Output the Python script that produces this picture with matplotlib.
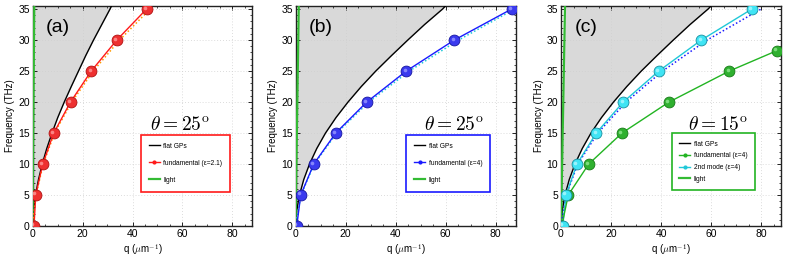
import matplotlib
matplotlib.use("Agg")
import matplotlib.pyplot as plt
from matplotlib.lines import Line2D
from matplotlib.ticker import MultipleLocator
from matplotlib.transforms import offset_copy

plt.rcParams['font.family'] = ['Liberation Sans', 'DejaVu Sans']
plt.rcParams['mathtext.fontset'] = 'cm'

# ---------------- data ----------------
flat_f = [0, 2.5, 5, 7.5, 10, 12.5, 15, 17.5, 20, 22.5, 25, 27.5, 30, 32.5, 35, 35.5]
flat_q_a = [0, 0.4, 1.2, 2.4, 3.9, 5.7, 7.8, 10.1, 12.7, 15.5, 18.4, 21.3, 24.4, 27.7, 31.0, 31.6]
flat_q_bc = [0, 0.5, 1.6, 3.3, 5.6, 8.5, 12.0, 16.2, 21.0, 26.3, 32.1, 38.4, 44.9, 51.6, 58.8, 60.0]

light_f = [0, 35.5]
light_q_a = [0, 0.7]
light_q_b = [0, 1.3]
light_q_c = [0, 1.6]

mode_f = [0, 5, 10, 15, 20, 25, 30, 35]
fund_q_a = [0.6, 1.3, 4.1, 8.5, 15.2, 23.5, 33.7, 45.6]
analytic_q_a = [0, 1.4, 4.3, 8.8, 15.7, 24.3, 34.8, 47.0]

fund_q_b = [0.5, 2.1, 7.3, 16.1, 28.5, 44.3, 63.5, 86.4]
analytic_q_b = [0, 2.2, 7.5, 16.5, 29.3, 45.5, 65.2, 87.6]

second_q_c = [0.7, 2.0, 6.4, 14.1, 24.9, 39.1, 56.1, 76.3]
analytic_q_c = [0, 2.1, 6.7, 14.7, 26.0, 40.6, 58.4, 80.0]
fund_f_c = [0, 5, 10, 15, 20, 25, 28.3]
fund_q_c = [0.3, 2.9, 11.1, 24.4, 43.2, 67.3, 86.4]

panel_labels = ['(a)', '(b)', '(c)']
theta_labels = [r'$\theta = 25^{\rm o}$', r'$\theta = 25^{\rm o}$', r'$\theta = 15^{\rm o}$']

# ---------------- styling ----------------
RED, RED_D, RED_L = '#ff1a1a', '#b01010', '#ff9a9a'
BLUE, BLUE_D, BLUE_L = '#1a1aff', '#1515a0', '#9a9aff'
CYAN, CYAN_D, CYAN_L = '#20c8d8', '#1890a0', '#b0f8ff'
GREEN, GREEN_D, GREEN_L = '#22b422', '#167a16', '#90e890'
LIGHT = '#33bb33'

fig = plt.figure(figsize=(7.89, 2.65), dpi=100)
lefts = [32.5 / 789, 295.5 / 789, 561 / 789]
W = 220 / 789
B = 39 / 265
H = 220 / 265
axes = [fig.add_axes([l, B, W, H]) for l in lefts]


def balls(ax, q, f, col, dark, light, z=5):
    ax.plot(q, f, 'o', ms=7.8, mfc=col, mec=dark, mew=0.6, zorder=z)
    tr = offset_copy(ax.transData, fig=fig, x=-1.1, y=1.1, units='points')
    ax.plot(q, f, 'o', ms=2.6, mfc=light, mec='none', alpha=0.8, zorder=z + 0.1, transform=tr)


def base(ax, flat_q, light_q, idx):
    ax.set_xlim(0, 88)
    ax.set_ylim(0, 35.5)
    ax.xaxis.set_major_locator(MultipleLocator(20))
    ax.xaxis.set_minor_locator(MultipleLocator(5))
    ax.yaxis.set_major_locator(MultipleLocator(5))
    ax.yaxis.set_minor_locator(MultipleLocator(1))
    ax.tick_params(which='both', direction='in', top=True, right=True, labelsize=7.5, pad=2)
    ax.tick_params(which='major', length=3, width=0.6)
    ax.tick_params(which='minor', length=1.5, width=0.5)
    ax.grid(True, which='major', ls=(0, (1, 2.5)), color='#d0d0d0', lw=0.6, zorder=0)
    for s in ax.spines.values():
        s.set_linewidth(1.0)
        s.set_color('#222222')
    ax.set_xlabel(r'q ($\mu$m$^{-1}$)', fontsize=7, labelpad=3)
    ax.set_ylabel('Frequency (THz)', fontsize=7, labelpad=2)
    lq = [light_q[0] + (light_q[1] - light_q[0]) * fv / light_f[1] for fv in flat_f]
    ax.fill_betweenx(flat_f, lq, flat_q, color='#d9d9d9', lw=0, zorder=1)
    ax.plot(flat_q, flat_f, color='black', lw=1.0, zorder=3)
    ax.plot(light_q, light_f, color=LIGHT, lw=1.6, zorder=3)
    ax.text(0.113, 0.90, panel_labels[idx], transform=ax.transAxes, fontsize=14,
            ha='center', va='center', zorder=6)


LEG = dict(loc='lower left', fontsize=4.8, frameon=True, fancybox=False, framealpha=1,
           handlelength=1.7, handletextpad=0.5, borderaxespad=0)

# panel (a)
ax = axes[0]
base(ax, flat_q_a, light_q_a, 0)
ax.plot(analytic_q_a, mode_f, ls=(0, (1, 1.5)), color='#ff9900', lw=1.1, zorder=3)
ax.plot(fund_q_a, mode_f, color=RED, lw=1.0, zorder=4)
balls(ax, fund_q_a, mode_f, '#ee3030', RED_D, RED_L)
ax.text(0.671, 0.459, theta_labels[0], transform=ax.transAxes, fontsize=14, ha='center', va='center')
handles = [Line2D([], [], color='black', lw=1.0),
           Line2D([], [], color=RED, lw=1.0, marker='o', ms=2, mfc=RED, mec=RED),
           Line2D([], [], color=LIGHT, lw=1.6)]
lab = ['flat GPs', 'fundamental (ε=2.1)', 'light']
leg = ax.legend(handles, lab, bbox_to_anchor=(0.492, 0.156), edgecolor=RED,
                labelspacing=1.5, borderpad=1.2, **LEG)
leg.get_frame().set_linewidth(1.2)

# panel (b)
ax = axes[1]
base(ax, flat_q_bc, light_q_b, 1)
ax.plot(analytic_q_b, mode_f, ls=(0, (1, 1.5)), color=CYAN, lw=1.1, zorder=3)
ax.plot(fund_q_b, mode_f, color=BLUE, lw=1.0, zorder=4)
balls(ax, fund_q_b, mode_f, '#3a3aee', BLUE_D, BLUE_L)
ax.text(0.722, 0.459, theta_labels[1], transform=ax.transAxes, fontsize=14, ha='center', va='center')
handles = [Line2D([], [], color='black', lw=1.0),
           Line2D([], [], color=BLUE, lw=1.0, marker='o', ms=2, mfc=BLUE, mec=BLUE),
           Line2D([], [], color=LIGHT, lw=1.6)]
lab = ['flat GPs', 'fundamental (ε=4)', 'light']
leg = ax.legend(handles, lab, bbox_to_anchor=(0.502, 0.156), edgecolor=BLUE,
                labelspacing=1.5, borderpad=1.2, **LEG)
leg.get_frame().set_linewidth(1.2)

# panel (c)
ax = axes[2]
base(ax, flat_q_bc, light_q_c, 2)
ax.plot(analytic_q_c, mode_f, ls=(0, (1, 1.5)), color=BLUE, lw=1.1, zorder=3)
ax.plot(second_q_c, mode_f, color=CYAN, lw=1.0, zorder=4)
ax.plot(fund_q_c, fund_f_c, color=GREEN, lw=1.0, zorder=4)
balls(ax, fund_q_c, fund_f_c, '#2fb02f', GREEN_D, GREEN_L)
balls(ax, second_q_c, mode_f, '#40e4f4', CYAN_D, CYAN_L, z=5.5)
ax.text(0.712, 0.459, theta_labels[2], transform=ax.transAxes, fontsize=14, ha='center', va='center')
handles = [Line2D([], [], color='black', lw=1.0),
           Line2D([], [], color=GREEN, lw=1.0, marker='o', ms=2, mfc=GREEN, mec=GREEN),
           Line2D([], [], color=CYAN, lw=1.0, marker='o', ms=2, mfc=CYAN, mec=CYAN),
           Line2D([], [], color=LIGHT, lw=1.6)]
lab = ['flat GPs', 'fundamental (ε=4)', '2nd mode (ε=4)', 'light']
leg = ax.legend(handles, lab, bbox_to_anchor=(0.503, 0.163), edgecolor=GREEN,
                labelspacing=0.7, borderpad=1.1, **LEG)
leg.get_frame().set_linewidth(1.2)

fig.savefig('out.png', dpi=100)
